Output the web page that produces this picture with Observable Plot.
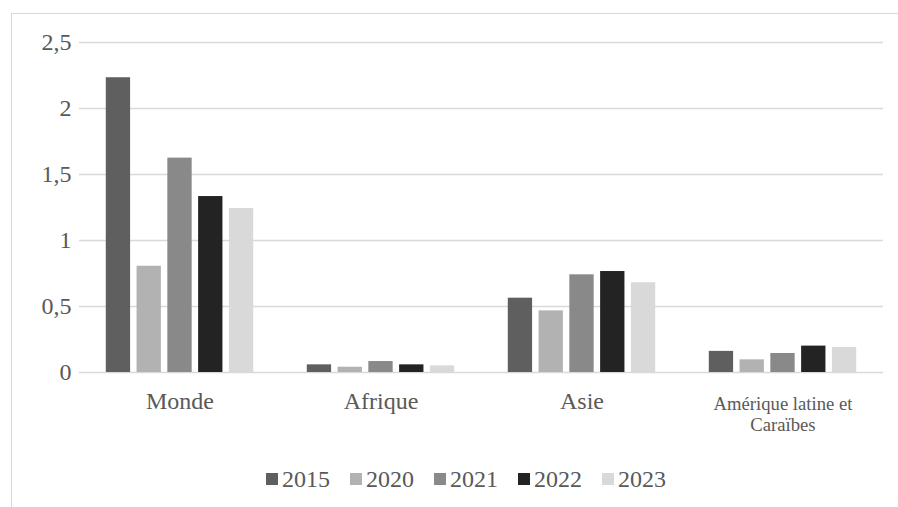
<!DOCTYPE html>
<html>
<head>
<meta charset="utf-8">
<script src="https://cdn.jsdelivr.net/npm/d3@7"></script>
<script src="https://cdn.jsdelivr.net/npm/@observablehq/plot@0.6"></script>
<style>
  html, body { margin: 0; padding: 0; background: #fff; }
  #wrap { position: relative; width: 898px; height: 507px; overflow: hidden; font-family: "Liberation Serif", "Times New Roman", serif; }
  #frame { position: absolute; left: 11px; top: 13px; width: 900px; height: 500px; border-top: 1px solid #d9d9d9; border-left: 1px solid #d9d9d9; }
  #chart { position: absolute; left: 0; top: 0; }
  #legend { position: absolute; left: 266px; top: 466.6px; display: flex; align-items: center; font-size: 24px; line-height: 24px; color: #595959; }
  .item { display: flex; align-items: center; margin-right: 20px; }
  .sw { width: 12px; height: 12px; margin-right: 4px; }
</style>
</head>
<body>
<div id="wrap">
  <div id="frame"></div>
  <div id="chart"></div>
  <div id="legend"></div>
</div>
<script>
const categories = ["Monde", "Afrique", "Asie", "Amérique latine et Caraïbes"];
const categoryLabels = ["Monde", "Afrique", "Asie", "Amérique latine et\nCaraïbes"];
const labelSizes = [24, 24, 24, 18.67];
const years = ["2015", "2020", "2021", "2022", "2023"];
const v2015 = [2.233, 0.058, 0.563, 0.160];
const v2020 = [0.805, 0.040, 0.467, 0.096];
const v2021 = [1.624, 0.083, 0.740, 0.144];
const v2022 = [1.333, 0.058, 0.765, 0.200];
const v2023 = [1.242, 0.050, 0.680, 0.190];
const colors = ["#5f5f5f", "#b2b2b2", "#898989", "#232323", "#d9d9d9"];
const yTicks = [0, 0.5, 1, 1.5, 2, 2.5];

const series = [v2015, v2020, v2021, v2022, v2023];
const rows = [];
categories.forEach((c, i) => {
  years.forEach((yr, j) => rows.push({region: c, year: yr, value: series[j][i]}));
});
const labels = categories.map((c, i) => ({region: c, label: categoryLabels[i], size: labelSizes[i]}));

const chart = Plot.plot({
  width: 898,
  height: 440,
  marginLeft: 79,
  marginRight: 15,
  marginTop: 42,
  marginBottom: 68,
  style: {fontFamily: "'Liberation Serif', 'Times New Roman', serif", fontSize: "24px", color: "#595959", background: "transparent", overflow: "visible"},
  fx: {domain: categories, padding: 0, round: false, axis: null},
  x: {domain: years, paddingInner: 0.21, paddingOuter: 0.87, round: false, axis: null},
  y: {domain: [0, 2.5], ticks: yTicks, tickFormat: d => String(d).replace(".", ","), tickSize: 0, tickPadding: 8, label: null},
  color: {domain: years, range: colors},
  marks: [
    Plot.ruleY(yTicks, {stroke: "#d9d9d9", strokeWidth: 1.5}),
    Plot.barY(rows, {fx: "region", x: "year", y: "value", fill: "year"}),
    Plot.text(labels.filter(d => d.size === 24), {fx: "region", text: "label", frameAnchor: "bottom", lineAnchor: "top", dy: 19, fontSize: 24, fill: "#595959"}),
    Plot.text(labels.filter(d => d.size !== 24), {fx: "region", text: "label", frameAnchor: "bottom", lineAnchor: "top", dy: 22.4, fontSize: 18.67, lineHeight: 1.14, fill: "#595959"})
  ]
});
document.getElementById("chart").appendChild(chart);

const legend = document.getElementById("legend");
years.forEach((yr, j) => {
  const item = document.createElement("div");
  item.className = "item";
  const sw = document.createElement("span");
  sw.className = "sw";
  sw.style.background = colors[j];
  const t = document.createElement("span");
  t.textContent = yr;
  item.appendChild(sw);
  item.appendChild(t);
  legend.appendChild(item);
});
</script>
</body>
</html>
